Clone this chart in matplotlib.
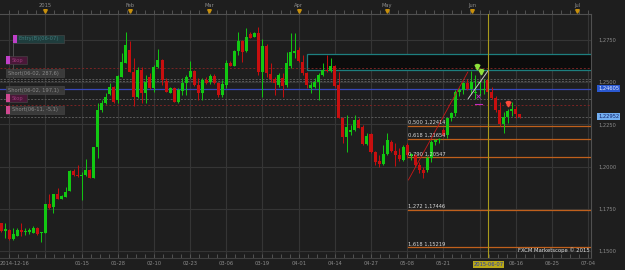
import matplotlib
matplotlib.use("Agg")
import matplotlib.pyplot as plt
from matplotlib.patches import Rectangle
import numpy as np

BG = "#1e1e1e"
GREEN = "#12c812"
RED = "#c80f0f"
TXT = "#8c8c8c"

# daily candles (index = trading slot)
opens = [1.1665, 1.1621, 1.1625, 1.1572, 1.1592, 1.1625, 1.1616, 1.1613, 1.1609, 1.1639,
         1.1608, 1.1609, 1.1779, 1.1759, 1.1836, 1.1809, 1.1822, 1.1856, 1.1974, 1.1950,
         1.1944, 1.1950, 1.1980, 1.1934, 1.2114, 1.2335, 1.2374, 1.2429, 1.2472, 1.2394,
         1.2531, 1.2614, 1.2689, 1.2561, 1.2413, 1.2571, 1.2433, 1.2531, 1.2463, 1.2587,
         1.2630, 1.2506, 1.2437, 1.2463, 1.2384, 1.2449, 1.2492, 1.2528, 1.2567, 1.2482,
         1.2433, 1.2512, 1.2502, 1.2535, 1.2492, 1.2423, 1.2482, 1.2614, 1.2596, 1.2683,
         1.2742, 1.2683, 1.2782, 1.2768, 1.2788, 1.2561, 1.2713, 1.2546, 1.2518, 1.2482,
         1.2525, 1.2482, 1.2596, 1.2670, 1.2689, 1.2620, 1.2551, 1.2463, 1.2472, 1.2502,
         1.2541, 1.2571, 1.2565, 1.2595, 1.2482, 1.2289, 1.2177, 1.2203, 1.2216, 1.2275,
         1.2236, 1.2134, 1.2191, 1.2085, 1.2033, 1.2014, 1.2073, 1.2147, 1.2092, 1.2069,
         1.2039, 1.2128, 1.2060, 1.2069, 1.2010, 1.1980, 1.1980, 1.2051, 1.2145, 1.2157,
         1.2217, 1.2187, 1.2288, 1.2317, 1.2441, 1.2453, 1.2494, 1.2459, 1.2435, 1.2494,
         1.2453, 1.2512, 1.2441, 1.2405, 1.2335, 1.2252, 1.2293, 1.2328, 1.2340, 1.2310]
highs = [1.1667, 1.1667, 1.1631, 1.1637, 1.1637, 1.1667, 1.1637, 1.1637, 1.1649, 1.1645,
         1.1613, 1.1779, 1.1836, 1.1838, 1.1872, 1.1832, 1.1878, 1.1980, 1.1984, 1.2009,
         1.1968, 1.2043, 1.1986, 1.2116, 1.2376, 1.2394, 1.2433, 1.2492, 1.2476, 1.2541,
         1.2670, 1.2794, 1.2744, 1.2640, 1.2590, 1.2590, 1.2541, 1.2551, 1.2600, 1.2693,
         1.2636, 1.2522, 1.2472, 1.2470, 1.2465, 1.2522, 1.2541, 1.2626, 1.2571, 1.2524,
         1.2524, 1.2530, 1.2546, 1.2546, 1.2502, 1.2512, 1.2630, 1.2624, 1.2689, 1.2797,
         1.2748, 1.2817, 1.2797, 1.2797, 1.2827, 1.2754, 1.2725, 1.2611, 1.2530, 1.2553,
         1.2551, 1.2679, 1.2788, 1.2788, 1.2709, 1.2660, 1.2559, 1.2498, 1.2522, 1.2551,
         1.2611, 1.2660, 1.2644, 1.2600, 1.2561, 1.2293, 1.2305, 1.2246, 1.2305, 1.2287,
         1.2246, 1.2199, 1.2199, 1.2092, 1.2069, 1.2128, 1.2199, 1.2157, 1.2139, 1.2110,
         1.2128, 1.2140, 1.2080, 1.2075, 1.2030, 1.2000, 1.2060, 1.2160, 1.2165, 1.2170,
         1.2230, 1.2290, 1.2320, 1.2450, 1.2465, 1.2500, 1.2520, 1.2565, 1.2540, 1.2500,
         1.2520, 1.2560, 1.2470, 1.2420, 1.2380, 1.2320, 1.2340, 1.2380, 1.2360, 1.2310]
lows = [1.1613, 1.1578, 1.1566, 1.1566, 1.1590, 1.1590, 1.1593, 1.1602, 1.1608, 1.1596,
        1.1556, 1.1608, 1.1749, 1.1724, 1.1806, 1.1806, 1.1820, 1.1853, 1.1944, 1.1939,
        1.1803, 1.1944, 1.1933, 1.1933, 1.2051, 1.2323, 1.2370, 1.2423, 1.2376, 1.2378,
        1.2530, 1.2612, 1.2559, 1.2358, 1.2405, 1.2376, 1.2378, 1.2459, 1.2443, 1.2583,
        1.2482, 1.2441, 1.2435, 1.2382, 1.2378, 1.2423, 1.2423, 1.2524, 1.2479, 1.2394,
        1.2394, 1.2488, 1.2488, 1.2488, 1.2411, 1.2413, 1.2466, 1.2595, 1.2595, 1.2660,
        1.2620, 1.2677, 1.2760, 1.2766, 1.2541, 1.2413, 1.2531, 1.2500, 1.2423, 1.2472,
        1.2413, 1.2470, 1.2581, 1.2642, 1.2618, 1.2541, 1.2465, 1.2437, 1.2465, 1.2394,
        1.2535, 1.2559, 1.2559, 1.2470, 1.2287, 1.2139, 1.2088, 1.2187, 1.2210, 1.2228,
        1.2128, 1.2128, 1.2080, 1.2009, 1.1998, 1.2009, 1.2069, 1.2086, 1.2005, 1.2033,
        1.2033, 1.2050, 1.2040, 1.2000, 1.1965, 1.1930, 1.1970, 1.2030, 1.2130, 1.2140,
        1.2180, 1.2170, 1.2270, 1.2300, 1.2420, 1.2430, 1.2450, 1.2430, 1.2400, 1.2420,
        1.2430, 1.2420, 1.2400, 1.2320, 1.2240, 1.2200, 1.2260, 1.2300, 1.2290, 1.2290]
closes = [1.1621, 1.1629, 1.1572, 1.1602, 1.1625, 1.1613, 1.1619, 1.1628, 1.1639, 1.1602,
          1.1612, 1.1779, 1.1754, 1.1836, 1.1809, 1.1826, 1.1852, 1.1974, 1.1950, 1.1944,
          1.1952, 1.1980, 1.1934, 1.2114, 1.2335, 1.2378, 1.2413, 1.2472, 1.2384, 1.2535,
          1.2620, 1.2719, 1.2561, 1.2413, 1.2571, 1.2433, 1.2502, 1.2463, 1.2590, 1.2630,
          1.2512, 1.2443, 1.2463, 1.2384, 1.2453, 1.2492, 1.2531, 1.2567, 1.2482, 1.2437,
          1.2512, 1.2492, 1.2535, 1.2492, 1.2423, 1.2486, 1.2614, 1.2596, 1.2683, 1.2742,
          1.2676, 1.2768, 1.2762, 1.2788, 1.2561, 1.2713, 1.2551, 1.2518, 1.2492, 1.2541,
          1.2478, 1.2611, 1.2676, 1.2683, 1.2624, 1.2553, 1.2482, 1.2482, 1.2502, 1.2541,
          1.2571, 1.2565, 1.2595, 1.2478, 1.2289, 1.2177, 1.2236, 1.2216, 1.2275, 1.2230,
          1.2134, 1.2181, 1.2085, 1.2029, 1.2014, 1.2073, 1.2157, 1.2092, 1.2069, 1.2045,
          1.2118, 1.2069, 1.2075, 1.2010, 1.1980, 1.1960, 1.2051, 1.2145, 1.2157, 1.2157,
          1.2187, 1.2288, 1.2317, 1.2441, 1.2453, 1.2494, 1.2459, 1.2500, 1.2435, 1.2494,
          1.2453, 1.2441, 1.2405, 1.2335, 1.2252, 1.2293, 1.2328, 1.2340, 1.2310, 1.22952]

grid_pos = list(range(2, 147, 9))
xlabel_pos = [3.2, 20, 29, 38, 47, 56, 65, 74, 83, 92, 101, 110, 128, 137, 146]
xlabels = ["2014-12-16", "01-15", "01-28", "02-10", "02-23", "03-06", "03-19", "04-01",
           "04-14", "04-27", "05-08", "05-21", "06-16", "06-25", "07-04"]
month_pos = [11, 32, 51.7, 74, 96, 117.1, 143.3]
month_labels = ["2015", "Feb", "Mar", "Apr", "May", "Jun", "Jul"]
price_ticks = [1.15, 1.175, 1.2, 1.225, 1.25, 1.275]

fib_ratio = [0.5, 0.618, 0.79, 1.272, 1.618]
fib_price = [1.22414, 1.21654, 1.20547, 1.17446, 1.15219]
fib_start = 101.3

zone_low, zone_high, zone_start = 1.2569, 1.2665, 76.0
red_dotted = [1.2581, 1.2362]
gray_dashed = [1.2518, 1.2506, 1.2401, 1.22952]
blue_price = 1.24605
last_price = 1.22952
cursor_x = 121.2

o = np.array(opens)
h = np.array(highs)
l = np.array(lows)
c = np.array(closes)
x = np.arange(len(o))

fig = plt.figure(figsize=(6.25, 2.7), dpi=100, facecolor=BG)
ax = fig.add_axes([0, 12 / 270, 591 / 625, 244 / 270], facecolor=BG)
ax.set_xlim(-0.31, 146.74)
ax.set_ylim(1.14598, 1.29019)

# grid
for g in grid_pos:
    ax.axvline(g, color="#353535", lw=0.8, zorder=0)
for p in price_ticks:
    ax.axhline(p, color="#353535", lw=0.8, zorder=0)

# resistance zone
ax.add_patch(Rectangle((zone_start, zone_low), 200, zone_high - zone_low,
                       facecolor="#0c0c0c", edgecolor="#1d7f7f", lw=0.9, zorder=1))
for p in red_dotted:
    ax.axhline(p, color="#7a2424", lw=0.7, ls=(0, (2, 2)), zorder=1.5)
for p in gray_dashed:
    ax.axhline(p, color="#5a5a5a", lw=0.7, ls=(0, (2, 1.5)), zorder=1.5)
ax.axhline(blue_price, color="#3848b8", lw=0.9, zorder=1.5)

# fibonacci levels
for r, p in zip(fib_ratio, fib_price):
    ax.plot([fib_start, 147], [p, p], color="#c0601c", lw=0.9, zorder=1.6)
    ax.text(fib_start, p + 0.0006, f"{r:.3f} {p:.5f}".replace(".", ","),
            color="#d8d8d8", fontsize=3.7, va="bottom", ha="left", zorder=5)

# candles
up = c >= o
cols = np.where(up, GREEN, RED)
ax.vlines(x, l, h, colors=cols, lw=0.7, zorder=3)
body = np.maximum(np.abs(c - o), 0.0006)
ax.bar(x, body, bottom=np.minimum(o, c), width=0.75, color=cols, lw=0, zorder=3)

# drawings
ax.plot([101.3, 116.1], [1.1921, 1.2559], color="#c81818", lw=0.6, zorder=4)
ax.plot([116.2, 121.2], [1.2402, 1.2569], color="#c8c8c8", lw=0.7, zorder=4)
ax.axvline(cursor_x, color="#a89a1c", lw=0.8, zorder=4)
for ax_, ay in [(118.4, 1.2590), (119.4, 1.2560)]:
    ax.plot(ax_, ay, marker="v", color="#8ee03a", ms=3.5, zorder=6)
    ax.plot(ax_, ay + 0.0012, marker="s", color="#8ee03a", ms=1.6, zorder=6)
ax.plot(126.2, 1.2372, marker="v", color="#ff4a3a", ms=3.5, zorder=6)
ax.plot(126.2, 1.2384, marker="s", color="#ff4a3a", ms=1.6, zorder=6)
ax.plot(118.5, 1.2415, marker="x", color="#c030c0", ms=2.5, mew=0.6, zorder=6)
ax.plot([118.0, 119.6], [1.2370, 1.2370], color="#c030c0", lw=0.8, zorder=6)

# left order annotations
notes = [
    ("Entry(B)(06-07)", 1.2755, 3.0, 15.6, "#c040c8", "#1f3d3d", "#3f7a7a"),
    ("Stop", 1.2630, 1.3, 6.5, "#c040c8", "#4a1838", "#9a3a7a"),
    ("Short(06-02, 287,6)", 1.2551, 1.3, 15.5, None, "#3a3a3a", "#8a8a8a"),
    ("Short(06-02, 197,1)", 1.2450, 1.3, 15.5, None, "#3a3a3a", "#8a8a8a"),
    ("Stop", 1.2405, 1.3, 6.5, "#d04890", "#4a1838", "#9a3a7a"),
    ("Short(06-11, -5,1)", 1.2335, 1.3, 15.5, "#d04890", "#3a3a3a", "#8a8a8a"),
]
ax.plot([3.0, 3.0], [1.2730, 1.2524], color="#555555", lw=0.6, zorder=6)
bh = 0.0047
for text, p, x0, x1, sq, bg, fg in notes:
    ax.add_patch(Rectangle((x0, p - bh / 2), x1 - x0, bh, facecolor=bg,
                           edgecolor="#4a4a4a", lw=0.4, zorder=7))
    tx = x0 + 0.3
    if sq:
        ax.add_patch(Rectangle((x0, p - bh / 2), 1.0, bh, facecolor=sq, lw=0, zorder=8))
        tx = x0 + 1.3
    ax.text(tx, p, text, color=fg, fontsize=3.7, va="center", ha="left", zorder=9)

# axes styling
ax.spines["left"].set_visible(False)
ax.spines["top"].set_color("#505050")
ax.spines["bottom"].set_color("#404040")
ax.spines["right"].set_color("#505050")
ax.set_xticks(xlabel_pos, xlabels)
ax.tick_params(axis="x", length=0, pad=2.5, labelsize=3.7, labelcolor=TXT)
ax.yaxis.tick_right()
ax.set_yticks(price_ticks, [f"{p:.4f}".replace(".", ",") for p in price_ticks])
ax.tick_params(axis="y", length=0, pad=5, labelsize=3.7, labelcolor=TXT)

tr = ax.get_xaxis_transform()
minor = np.arange(2, 147, 2.25)
ax.vlines(minor, 1.0, 1.0 + 4 / 244, colors="#5a5a5a", lw=0.6, transform=tr, clip_on=False)
ax.vlines(minor, 0.0, 4 / 244, colors="#5a5a5a", lw=0.6, transform=tr, clip_on=False)
for mp, ml in zip(month_pos, month_labels):
    ax.text(mp, 1.036, ml, transform=tr, color=TXT, fontsize=3.7, ha="center", va="center")
    ax.plot(mp, 1.012, marker="v", color="#c8900c", ms=2.6, transform=tr, clip_on=False)

ax.text(cursor_x, -0.026, "2015-06-07", transform=tr, color="#2038b0", fontsize=3.7,
        ha="center", va="center",
        bbox=dict(boxstyle="square,pad=0.15", fc="#b8a818", ec="none"))

ty = ax.get_yaxis_transform()
ax.text(1.012, blue_price, f"{blue_price:.5f}".replace(".", ","), transform=ty,
        color="#e6ecff", fontsize=3.7, ha="left", va="center",
        bbox=dict(boxstyle="square,pad=0.2", fc="#2a58d0", ec="none"))
ax.text(1.012, last_price, f"{last_price:.5f}".replace(".", ","), transform=ty,
        color="#10206a", fontsize=3.7, ha="left", va="center",
        bbox=dict(boxstyle="square,pad=0.2", fc="#72aef0", ec="none"))

ax.text(0.998, 0.03, "FXCM Marketscope \u00a9 2015", transform=ax.transAxes,
        color="#e0e0e0", fontsize=3.8, ha="right", va="center", zorder=9)

fig.savefig("out.png", dpi=100, facecolor=BG)
